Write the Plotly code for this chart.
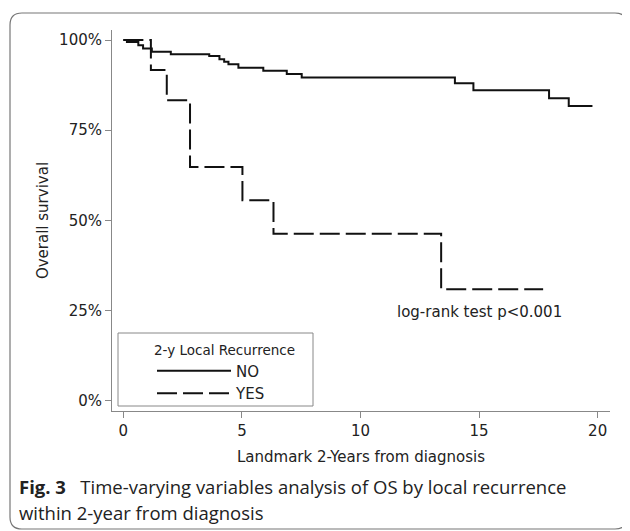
import plotly.graph_objects as go

# ---- data ----
no_time = [0, 0.15, 0.63, 0.83, 1.2, 2.0, 3.62, 4.05, 4.25, 4.43, 4.85, 5.9, 6.89, 7.52, 13.98, 14.76, 17.95, 18.78, 19.78]
no_surv = [100, 99.5, 98.6, 97.7, 96.8, 96.1, 95.6, 94.7, 94.0, 93.3, 92.3, 91.5, 90.6, 89.6, 88.0, 86.1, 83.9, 81.7, 81.7]
yes_time = [0, 1.16, 1.83, 2.81, 5.02, 6.33, 13.4, 17.7]
yes_surv = [100, 91.7, 83.3, 64.8, 55.6, 46.3, 30.9, 30.9]
x_ticks = [0, 5, 10, 15, 20]
y_ticks = [0, 25, 50, 75, 100]
y_tick_labels = ["0%", "25%", "50%", "75%", "100%"]

# page layout (page pixels); the page body has an 8px margin
OFF = 8
PAGE_W, PAGE_H = 630, 531
W, H = PAGE_W - OFF, PAGE_H - OFF
L, R, T, B = 112, 610, 30, 411  # plot area in page pixels


def px(x):
    return (x - L) / (R - L)


def py(y):
    return (B - y) / (B - T)


fig = go.Figure()
fig.add_trace(go.Scatter(x=no_time, y=no_surv, mode="lines", name="NO",
                         line=dict(shape="hv", color="#111111", width=2)))
fig.add_trace(go.Scatter(x=yes_time, y=yes_surv, mode="lines", name="YES",
                         line=dict(shape="hv", color="#111111", width=2, dash="20px,6px")))

axis_font = dict(family="DejaVu Sans", size=15, color="#222222")

fig.update_layout(
    width=W, height=H,
    margin=dict(l=L - OFF, r=PAGE_W - R, t=T - OFF, b=PAGE_H - B, pad=0),
    paper_bgcolor="white", plot_bgcolor="white",
    showlegend=True,
    legend=dict(
        title=dict(text="2-y Local Recurrence", side="top center",
                   font=dict(family="DejaVu Sans", size=13.5, color="#222222")),
        font=dict(family="DejaVu Sans", size=15, color="#222222"),
        x=px(152), y=py(337), xanchor="left", yanchor="top",
        bgcolor="rgba(0,0,0,0)", borderwidth=0,
        itemwidth=74, tracegroupgap=0,
    ),
    xaxis=dict(
        range=[-0.48, 20.52], tickvals=x_ticks, ticks="outside", ticklen=6,
        tickcolor="#888888", showline=True, linecolor="#888888", linewidth=1,
        showgrid=False, zeroline=False, tickfont=axis_font,
        title=dict(text="Landmark 2-Years from diagnosis", font=axis_font, standoff=12),
    ),
    yaxis=dict(
        range=[-2.86, 102.8], tickvals=y_ticks, ticktext=y_tick_labels,
        ticks="outside", ticklen=6, tickcolor="#888888", showline=True,
        linecolor="#888888", linewidth=1, showgrid=False, zeroline=False,
        tickfont=axis_font,
        title=dict(text="Overall survival", font=axis_font, standoff=6),
    ),
)

# legend frame
fig.add_shape(type="rect", xref="paper", yref="paper",
              x0=px(118), x1=px(313), y0=py(406), y1=py(333),
              line=dict(color="#888888", width=1), fillcolor="rgba(0,0,0,0)")

# outer rounded frame
bx0, bx1, by0, by1, r = 10, 627, 13, 529, 12
path = (
    f"M {px(bx0 + r)} {py(by0)} L {px(bx1 - r)} {py(by0)} "
    f"Q {px(bx1)} {py(by0)} {px(bx1)} {py(by0 + r)} "
    f"L {px(bx1)} {py(by1 - r)} Q {px(bx1)} {py(by1)} {px(bx1 - r)} {py(by1)} "
    f"L {px(bx0 + r)} {py(by1)} Q {px(bx0)} {py(by1)} {px(bx0)} {py(by1 - r)} "
    f"L {px(bx0)} {py(by0 + r)} Q {px(bx0)} {py(by0)} {px(bx0 + r)} {py(by0)} Z"
)
fig.add_shape(type="path", xref="paper", yref="paper", path=path,
              line=dict(color="#777777", width=1.2), fillcolor="rgba(0,0,0,0)")

# log-rank annotation
fig.add_annotation(x=15.0, y=24.6, xref="x", yref="y", text="log-rank test p<0.001",
                   showarrow=False, font=axis_font, xanchor="center", yanchor="middle")

# caption
cap_font = dict(family="Open Sans", size=18.5, color="#222222")
fig.add_annotation(x=px(17), y=py(486), xref="paper", yref="paper", xanchor="left", yanchor="middle",
                   text="<b>Fig. 3</b>   Time-varying variables analysis of OS by local recurrence",
                   showarrow=False, font=cap_font)
fig.add_annotation(x=px(17), y=py(512), xref="paper", yref="paper", xanchor="left", yanchor="middle",
                   text="within 2-year from diagnosis", showarrow=False, font=cap_font)

fig.write_html("out.html")
